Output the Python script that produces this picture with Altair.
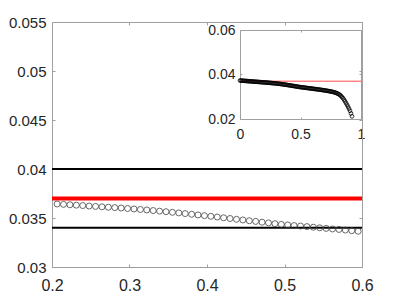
import altair as alt
import pandas as pd

# sampled curve (uniform grid in x, step 1/121)
y_vals = [
    0.03730, 0.03726, 0.03723, 0.03719, 0.03716, 0.03712, 0.03709, 0.03705, 0.03702, 0.03698,
    0.03695, 0.03691, 0.03688, 0.03684, 0.03681, 0.03677, 0.03674, 0.03670, 0.03667, 0.03663,
    0.03660, 0.03656, 0.03653, 0.03649, 0.03646,
    0.03643, 0.03639, 0.03635, 0.03631, 0.03627, 0.03622, 0.03618, 0.03614, 0.03610, 0.03606,
    0.03602, 0.03597,
    0.03592, 0.03587, 0.03582, 0.03576, 0.03570, 0.03564, 0.03558, 0.03552, 0.03545, 0.03538,
    0.03531, 0.03524,
    0.03517, 0.03510, 0.03502, 0.03495, 0.03487, 0.03480, 0.03472, 0.03465, 0.03457, 0.03450,
    0.03442, 0.03435,
    0.03429, 0.03423, 0.03418, 0.03412, 0.03406, 0.03400, 0.03394, 0.03388, 0.03383, 0.03377,
    0.03371, 0.03365,
    0.03359, 0.03353, 0.03347, 0.03341, 0.03335, 0.03329, 0.03323, 0.03317, 0.03310, 0.03304,
    0.03297, 0.03290, 0.03283, 0.03276, 0.03268, 0.03260, 0.03252, 0.03243, 0.03234,
    0.03225, 0.03215, 0.03203, 0.03190, 0.03174, 0.03155, 0.03133, 0.03108,
    0.03080, 0.03035, 0.02985, 0.02935, 0.02870, 0.02795, 0.02720, 0.02640, 0.02555, 0.02465,
    0.02370, 0.02250, 0.02120,
]
x_step = 1 / 121
x_vals = [i * x_step for i in range(len(y_vals))]

black_levels = [0.04, 0.034]
red_levels = [0.037]

main_x_domain = [0.2, 0.6]
main_y_domain = [0.03, 0.055]
main_x_ticks = [0.2, 0.3, 0.4, 0.5, 0.6]
main_y_ticks = [0.03, 0.035, 0.04, 0.045, 0.05, 0.055]

inset_x_domain = [0, 1]
inset_y_domain = [0.02, 0.06]
inset_x_ticks = [0, 0.5, 1]
inset_y_ticks = [0.02, 0.04, 0.06]
inset_red_span = [0, 1]

df = pd.DataFrame({"x": x_vals, "y": y_vals})
black_df = pd.DataFrame({"y": black_levels})
red_df = pd.DataFrame({"y": red_levels})
inset_red_df = pd.DataFrame({"x": [inset_red_span[0]], "x2": [inset_red_span[1]], "y": red_levels})

W, H = 310, 245
INSET_X_RANGE = [188, 309]
INSET_Y_RANGE = [97, 8]

GRAY = "#a0a0a0"
LABEL = "#262626"
FONT = "Liberation Sans"


def axis(orient, values, labels=True, size=16, offset=0, tick=3, pad=6):
    kw = dict(
        orient=orient, values=values, format="~g", grid=False, title=None,
        domainColor=GRAY, domainWidth=1, tickColor=GRAY, tickWidth=1,
        tickSize={"expr": str(-tick)}, labels=labels, labelFont=FONT,
        labelFontSize=size, labelColor=LABEL, labelPadding=pad, offset=offset,
        labelFlush=False, labelOverlap=False,
    )
    return alt.Axis(**kw)


# ---- main plot ----
mx_scale = alt.Scale(domain=main_x_domain, nice=False, zero=False)
my_scale = alt.Scale(domain=main_y_domain, nice=False, zero=False)
mx = alt.X("x:Q", scale=mx_scale, axis=axis("bottom", main_x_ticks, pad=13))
my = alt.Y("y:Q", scale=my_scale, axis=axis("left", main_y_ticks, size=15, pad=9))

black_rules = alt.Chart(black_df).mark_rule(color="black", strokeWidth=2).encode(y=my)
red_rule = alt.Chart(red_df).mark_rule(color="#ff0000", strokeWidth=4).encode(y=my)
main_pts = (
    alt.Chart(df)
    .transform_filter(f"datum.x >= {main_x_domain[0]} && datum.x <= {main_x_domain[1]}")
    .mark_point(shape="circle", filled=False, size=36, stroke="#444444", strokeWidth=0.8, opacity=1)
    .encode(x=mx, y=my)
)
main = alt.layer(black_rules, red_rule, main_pts)

main_mirror = (
    alt.Chart(df)
    .transform_filter(f"datum.x >= {main_x_domain[0]} && datum.x <= {main_x_domain[1]}")
    .mark_point(opacity=0)
    .encode(
        x=alt.X("x:Q", scale=mx_scale, axis=axis("top", main_x_ticks, labels=False)),
        y=alt.Y("y:Q", scale=my_scale, axis=axis("right", main_y_ticks, labels=False)),
    )
)

# ---- inset ----
ix_scale = alt.Scale(domain=inset_x_domain, range=INSET_X_RANGE, nice=False, zero=False)
iy_scale = alt.Scale(domain=inset_y_domain, range=INSET_Y_RANGE, nice=False, zero=False)
ix = alt.X("x:Q", scale=ix_scale, axis=axis("bottom", inset_x_ticks, size=14, offset=-(H - INSET_Y_RANGE[0]), tick=2, pad=10))
iy = alt.Y("y:Q", scale=iy_scale, axis=axis("left", inset_y_ticks, size=14, offset=-INSET_X_RANGE[0], tick=2, pad=7))

inset_red = alt.Chart(inset_red_df).mark_rule(color="#ff0000", strokeWidth=0.7).encode(x=ix, x2="x2:Q", y=iy)
inset_pts = alt.Chart(df).mark_point(
    shape="circle", filled=False, size=14, stroke="black", strokeWidth=0.8, opacity=1
).encode(x=ix, y=iy)
inset = alt.layer(inset_red, inset_pts)

inset_mirror = alt.Chart(df).mark_point(opacity=0).encode(
    x=alt.X("x:Q", scale=ix_scale, axis=axis("top", inset_x_ticks, labels=False, offset=-INSET_Y_RANGE[1], tick=2)),
    y=alt.Y("y:Q", scale=iy_scale, axis=axis("right", inset_y_ticks, labels=False, offset=-(W - INSET_X_RANGE[1]), tick=2)),
)

chart = (
    alt.layer(main, main_mirror, inset, inset_mirror)
    .resolve_scale(x="independent", y="independent")
    .properties(
        width=W, height=H, autosize="none",
        padding={"left": 44, "top": 14, "right": 30, "bottom": 25},
        background="white",
    )
    .configure_view(strokeWidth=0)
)

chart.save("out.html", embed_options={"renderer": "svg", "actions": False})
